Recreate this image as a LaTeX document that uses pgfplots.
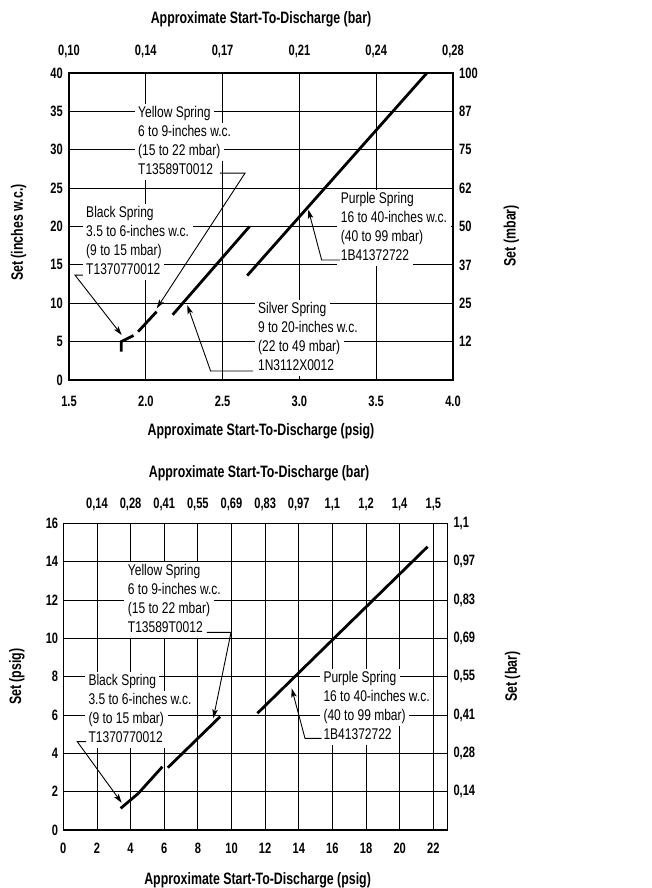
\documentclass[border=0pt]{standalone}
\usepackage{pgfplots}
\pgfplotsset{compat=1.18}
\usepackage{fontspec}
\setmainfont{Liberation Sans}
\newfontfamily\tickfont{Liberation Sans}[FakeStretch=0.74]
\newfontfamily\labfont{Liberation Sans}[FakeStretch=0.75]
\newfontfamily\annfont{Liberation Sans}[FakeStretch=0.775]
\usetikzlibrary{arrows.meta}
\newcommand\bx[1]{\colorbox{white}{\hspace{2.5pt}\rule[-4.7pt]{0pt}{17pt}#1\hspace{2.5pt}}}
\newcommand\ann[4]{\annfont\fontsize{15.5}{19}\selectfont\setlength{\fboxsep}{1pt}%
  \begin{tabular}[t]{@{}l@{}}\bx{#1}\\\bx{#2}\\\bx{#3}\\\bx{#4}\end{tabular}}
\pgfplotsset{
  base/.style={scale only axis, anchor=south west,
    major tick length=0pt,
    axis line style={line width=1.2pt},
    tick label style={font=\tickfont\bfseries\fontsize{15}{17}\selectfont, inner sep=0pt},
    label style={font=\labfont\bfseries\fontsize{16.5}{18}\selectfont, inner sep=0pt},
  },
  dat/.style={black, line width=2.8pt, no marks},
}
\tikzset{
  arr/.style={black, line width=0.9pt, -{Stealth[length=9pt,width=5.5pt,inset=2pt]}},
  txt/.style={anchor=base west, inner sep=0pt, xshift=-3.5pt, yshift=-5.5pt},
}
\begin{document}
\begin{tikzpicture}
\path[use as bounding box] (0pt,0pt) rectangle (652pt,-888pt);
% ---------------- Chart 1 ----------------
\begin{axis}[base, at={(69pt,-380pt)}, width=384pt, height=307pt,
  xmin=1.5, xmax=4.0, ymin=0, ymax=40,
  xtick={1.5,2.0,2.5,3.0,3.5,4.0}, xticklabels={1.5,2.0,2.5,3.0,3.5,4.0},
  ytick={0,5,10,15,20,25,30,35,40}, yticklabels={0,5,10,15,20,25,30,35,40},
  xticklabel pos=lower, yticklabel pos=left,
  xticklabel shift=16pt, yticklabel shift=6pt,
  grid=major, grid style={black, line width=0.8pt},
  xlabel={Approximate Start-To-Discharge (psig)},
  xlabel style={at={(axis description cs:0.5,-0.166)}, anchor=center},
  ylabel={Set (inches w.c.)},
  ylabel style={at={(axis description cs:-0.131,0.48)}, anchor=center},
]
\node[txt] at (axis cs:1.949,34.9) {\ann{Yellow Spring}{6 to 9-inches w.c.}{(15 to 22 mbar)}{T13589T0012}};
\node[txt] at (axis cs:1.611,21.875) {\ann{Black Spring}{3.5 to 6-inches w.c.}{(9 to 15 mbar)}{T1370770012}};
\node[txt] at (axis cs:2.730,9.41) {\ann{Silver Spring}{9 to 20-inches w.c.}{(22 to 49 mbar)}{1N3112X0012}};
\node[txt] at (axis cs:3.269,23.7) {\ann{Purple Spring}{16 to 40-inches w.c.}{(40 to 99 mbar)}{1B41372722}};
% black spring
\addplot[dat] coordinates {(1.84,3.7) (1.84,5.0) (1.92,5.8)};
% yellow spring
\addplot[dat] coordinates {(1.95,6.3) (2.07,8.9)};
% silver spring
\addplot[dat] coordinates {(2.175,8.5) (2.675,20.0)};
% purple spring
\addplot[dat] coordinates {(2.66,13.6) (3.83,40)};
% leaders
\draw[arr] (axis cs:2.483,26.95) -- (axis cs:2.646,26.95) -- (axis cs:2.071,9.33);
\draw[arr] (axis cs:1.591,13.67) -- (axis cs:1.539,13.67) -- (axis cs:1.843,5.86);
\draw[arr] (axis cs:2.698,1.17) -- (axis cs:2.422,1.17) -- (axis cs:2.27,9.77);
\draw[arr] (axis cs:3.264,15.63) -- (axis cs:3.145,15.63) -- (axis cs:3.058,22.2);
\end{axis}
\begin{axis}[base, at={(69pt,-380pt)}, width=384pt, height=307pt,
  xmin=1.5, xmax=4.0, ymin=0, ymax=40,
  xticklabel pos=upper, yticklabel pos=upper,
  xtick={1.5,2.0,2.5,3.0,3.5,4.0}, xticklabels={{0,10},{0,14},{0,17},{0,21},{0,24},{0,28}},
  ytick={5,10,15,20,25,30,35,40}, yticklabels={12,25,37,50,62,75,87,100},
  xticklabel shift=14.5pt, yticklabel shift=6pt,
  xlabel={Approximate Start-To-Discharge (bar)},
  xlabel style={at={(axis description cs:0.5,1.176)}, anchor=center},
  ylabel={Set (mbar)},
  ylabel style={at={(axis description cs:1.152,0.47)}, anchor=center},
]
\end{axis}
% ---------------- Chart 2 ----------------
\begin{axis}[base, at={(63.3pt,-830pt)}, width=384pt, height=306.7pt,
  xmin=0, xmax=22.83, ymin=0, ymax=16,
  xtick={0,2,4,6,8,10,12,14,16,18,20,22}, xticklabels={0,2,4,6,8,10,12,14,16,18,20,22},
  ytick={0,2,4,6,8,10,12,14,16}, yticklabels={0,2,4,6,8,10,12,14,16},
  xticklabel pos=lower, yticklabel pos=left,
  xticklabel shift=13pt, yticklabel shift=5pt,
  grid=major, grid style={black, line width=0.8pt},
  xlabel={Approximate Start-To-Discharge (psig)},
  xlabel style={at={(axis description cs:0.506,-0.163)}, anchor=center},
  ylabel={Set (psig)},
  ylabel style={at={(axis description cs:-0.121,0.5)}, anchor=center},
]
\node[txt] at (axis cs:3.83,13.56) {\ann{Yellow Spring}{6 to 9-inches w.c.}{(15 to 22 mbar)}{T13589T0012}};
\node[txt] at (axis cs:1.49,7.82) {\ann{Black Spring}{3.5 to 6-inches w.c.}{(9 to 15 mbar)}{T1370770012}};
\node[txt] at (axis cs:15.46,8.0) {\ann{Purple Spring}{16 to 40-inches w.c.}{(40 to 99 mbar)}{1B41372722}};
% black spring
\addplot[dat] coordinates {(3.41,1.13) (4.46,1.91)};
% yellow spring
\addplot[dat] coordinates {(4.46,1.91) (5.89,3.30)};
% silver spring
\addplot[dat] coordinates {(6.21,3.25) (9.32,5.91)};
% purple spring
\addplot[dat] coordinates {(11.54,6.09) (21.66,14.78)};
% leaders
\draw[arr] (axis cs:8.53,10.31) -- (axis cs:9.97,10.31) -- (axis cs:8.92,5.83);
\draw[arr] (axis cs:1.35,4.61) -- (axis cs:0.83,4.61) -- (axis cs:3.47,1.42);
\draw[arr] (axis cs:15.36,4.78) -- (axis cs:14.37,4.78) -- (axis cs:13.58,7.39);
\end{axis}
\begin{axis}[base, at={(63.3pt,-830pt)}, width=384pt, height=306.7pt,
  xmin=0, xmax=22.83, ymin=0, ymax=16,
  xticklabel pos=upper, yticklabel pos=upper,
  xtick={2,4,6,8,10,12,14,16,18,20,22},
  xticklabels={{0,14},{0,28},{0,41},{0,55},{0,69},{0,83},{0,97},{1,1},{1,2},{1,4},{1,5}},
  ytick={2,4,6,8,10,12,14,16},
  yticklabels={{0,14},{0,28},{0,41},{0,55},{0,69},{0,83},{0,97},{1,1}},
  xticklabel shift=12pt, yticklabel shift=6pt,
  xlabel={Approximate Start-To-Discharge (bar)},
  xlabel style={at={(axis description cs:0.51,1.163)}, anchor=center},
  ylabel={Set (bar)},
  ylabel style={at={(axis description cs:1.17,0.5)}, anchor=center},
]
\end{axis}
\end{tikzpicture}
\end{document}
